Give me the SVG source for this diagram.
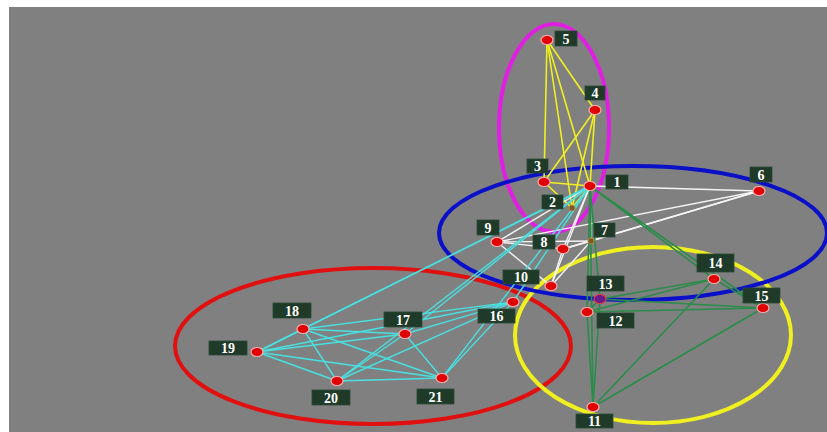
<svg xmlns="http://www.w3.org/2000/svg" width="827" height="432" viewBox="0 0 827 432">
<style>
.bg{fill:#808080}
.ring{fill:none;stroke-width:4}
.y{stroke:#f0f020;stroke-width:1.6}
.w{stroke:#f4f4f4;stroke-width:1.4}
.g{stroke:#2a8c4a;stroke-width:1.6}
.c{stroke:#48e0e0;stroke-width:1.4}
.n{fill:#e00000;stroke:#f4b0b0;stroke-width:1.2}
.s{fill:#7a5a20;stroke:#c08040;stroke-width:1}
.p{fill:#6a1a8a;stroke:#e04040;stroke-width:1.2}
.lb{fill:#1f3a29;stroke:#2c4a36;stroke-width:0.8}
.t{font-family:"Liberation Serif","DejaVu Serif",serif;font-weight:bold;font-size:14px;fill:#ffffff;text-anchor:middle}
</style>
<rect x="0" y="0" width="827" height="432" fill="#ffffff"/>
<rect class="bg" x="9" y="7" width="818" height="425"/>
<g id="regions">
<ellipse class="ring" cx="373" cy="346" rx="198" ry="78" stroke="#e01010"/>
<ellipse class="ring" cx="554" cy="128" rx="55" ry="104" stroke="#e020e0"/>
<ellipse class="ring" cx="653" cy="335" rx="138" ry="88" stroke="#f0f020"/>
<ellipse class="ring" cx="633" cy="233" rx="194" ry="67" stroke="#0a10c8"/>
</g>
<g id="connectors">
<!-- yellow -->
<line class="y" x1="547" y1="40" x2="544" y2="182"/>
<line class="y" x1="547" y1="40" x2="595" y2="110"/>
<line class="y" x1="547" y1="40" x2="572" y2="208"/>
<line class="y" x1="547" y1="40" x2="590" y2="186"/>
<line class="y" x1="595" y1="110" x2="544" y2="182"/>
<line class="y" x1="595" y1="110" x2="572" y2="208"/>
<line class="y" x1="595" y1="110" x2="590" y2="186"/>
<line class="y" x1="544" y1="182" x2="590" y2="186"/>
<line class="y" x1="544" y1="182" x2="572" y2="208"/>
<line class="y" x1="590" y1="186" x2="572" y2="208"/>
<!-- white -->
<line class="w" x1="590" y1="186" x2="759" y2="191"/>
<line class="w" x1="590" y1="186" x2="497" y2="242"/>
<line class="w" x1="590" y1="186" x2="563" y2="249"/>
<line class="w" x1="590" y1="186" x2="551" y2="286"/>
<line class="w" x1="590" y1="186" x2="591" y2="241"/>
<line class="w" x1="759" y1="191" x2="497" y2="242"/>
<line class="w" x1="759" y1="191" x2="563" y2="249"/>
<line class="w" x1="759" y1="191" x2="591" y2="241"/>
<line class="w" x1="497" y1="242" x2="591" y2="241"/>
<line class="w" x1="497" y1="242" x2="563" y2="249"/>
<line class="w" x1="497" y1="242" x2="551" y2="286"/>
<line class="w" x1="563" y1="249" x2="591" y2="241"/>
<line class="w" x1="563" y1="249" x2="551" y2="286"/>
<line class="w" x1="591" y1="241" x2="551" y2="286"/>
<!-- green -->
<line class="g" x1="590" y1="186" x2="593" y2="407"/>
<line class="g" x1="590" y1="186" x2="587" y2="312"/>
<line class="g" x1="590" y1="186" x2="600" y2="299"/>
<line class="g" x1="590" y1="186" x2="714" y2="279"/>
<line class="g" x1="590" y1="186" x2="763" y2="308"/>
<line class="g" x1="714" y1="279" x2="587" y2="312"/>
<line class="g" x1="714" y1="279" x2="600" y2="299"/>
<line class="g" x1="714" y1="279" x2="593" y2="407"/>
<line class="g" x1="714" y1="279" x2="763" y2="308"/>
<line class="g" x1="763" y1="308" x2="587" y2="312"/>
<line class="g" x1="763" y1="308" x2="600" y2="299"/>
<line class="g" x1="763" y1="308" x2="593" y2="407"/>
<line class="g" x1="587" y1="312" x2="593" y2="407"/>
<line class="g" x1="600" y1="299" x2="593" y2="407"/>
<line class="g" x1="587" y1="312" x2="600" y2="299"/>
<!-- cyan -->
<line class="c" x1="590" y1="186" x2="257" y2="352"/>
<line class="c" x1="590" y1="186" x2="303" y2="329"/>
<line class="c" x1="590" y1="186" x2="405" y2="334"/>
<line class="c" x1="590" y1="186" x2="337" y2="381"/>
<line class="c" x1="590" y1="186" x2="513" y2="302"/>
<line class="c" x1="590" y1="186" x2="442" y2="378"/>
<line class="c" x1="513" y1="302" x2="405" y2="334"/>
<line class="c" x1="513" y1="302" x2="303" y2="329"/>
<line class="c" x1="513" y1="302" x2="257" y2="352"/>
<line class="c" x1="513" y1="302" x2="337" y2="381"/>
<line class="c" x1="513" y1="302" x2="442" y2="378"/>
<line class="c" x1="405" y1="334" x2="303" y2="329"/>
<line class="c" x1="405" y1="334" x2="257" y2="352"/>
<line class="c" x1="405" y1="334" x2="337" y2="381"/>
<line class="c" x1="405" y1="334" x2="442" y2="378"/>
<line class="c" x1="303" y1="329" x2="257" y2="352"/>
<line class="c" x1="303" y1="329" x2="337" y2="381"/>
<line class="c" x1="303" y1="329" x2="442" y2="378"/>
<line class="c" x1="257" y1="352" x2="337" y2="381"/>
<line class="c" x1="257" y1="352" x2="442" y2="378"/>
<line class="c" x1="337" y1="381" x2="442" y2="378"/>
</g>
<g id="n1"><ellipse class="n" cx="590" cy="186" rx="6" ry="4.5"/><rect class="lb" x="606" y="175" width="22" height="14"/><text class="t" x="617" y="187">1</text></g>
<g id="n2"><circle class="s" cx="572" cy="208" r="3"/><rect class="lb" x="542" y="195" width="21" height="14"/><text class="t" x="552.5" y="207">2</text></g>
<g id="n3"><ellipse class="n" cx="544" cy="182" rx="6" ry="4.5"/><rect class="lb" x="527" y="159" width="21" height="14"/><text class="t" x="537.5" y="171">3</text></g>
<g id="n4"><ellipse class="n" cx="595" cy="110" rx="6" ry="4.5"/><rect class="lb" x="585" y="86" width="20" height="14"/><text class="t" x="595" y="98">4</text></g>
<g id="n5"><ellipse class="n" cx="547" cy="40" rx="6" ry="4.5"/><rect class="lb" x="555" y="31" width="22" height="15"/><text class="t" x="566" y="43.5">5</text></g>
<g id="n6"><ellipse class="n" cx="759" cy="191" rx="6" ry="4.5"/><rect class="lb" x="750" y="167" width="22" height="15"/><text class="t" x="761" y="179.5">6</text></g>
<g id="n7"><circle class="s" cx="591" cy="241" r="3"/><rect class="lb" x="594" y="223" width="21" height="14"/><text class="t" x="604.5" y="235">7</text></g>
<g id="n8"><ellipse class="n" cx="563" cy="249" rx="6" ry="4.5"/><rect class="lb" x="533" y="235" width="22" height="14"/><text class="t" x="544" y="247">8</text></g>
<g id="n9"><ellipse class="n" cx="497" cy="242" rx="6" ry="4.5"/><rect class="lb" x="477" y="220" width="22" height="15"/><text class="t" x="488" y="232.5">9</text></g>
<g id="n10"><ellipse class="n" cx="551" cy="286" rx="6" ry="4.5"/><rect class="lb" x="503" y="270" width="36" height="14"/><text class="t" x="521" y="282">10</text></g>
<g id="n11"><ellipse class="n" cx="593" cy="407" rx="6" ry="4.5"/><rect class="lb" x="576" y="414" width="37" height="14"/><text class="t" x="594.5" y="426">11</text></g>
<g id="n12"><ellipse class="n" cx="587" cy="312" rx="6" ry="4.5"/><rect class="lb" x="597" y="313" width="37" height="15"/><text class="t" x="615.5" y="325.5">12</text></g>
<g id="n13"><ellipse class="p" cx="600" cy="299" rx="6" ry="4.5"/><rect class="lb" x="587" y="276" width="37" height="15"/><text class="t" x="605.5" y="288.5">13</text></g>
<g id="n14"><ellipse class="n" cx="714" cy="279" rx="6" ry="4.5"/><rect class="lb" x="697" y="254" width="37" height="18"/><text class="t" x="715.5" y="268">14</text></g>
<g id="n15"><ellipse class="n" cx="763" cy="308" rx="6" ry="4.5"/><rect class="lb" x="743" y="288" width="37" height="15"/><text class="t" x="761.5" y="300.5">15</text></g>
<g id="n16"><ellipse class="n" cx="513" cy="302" rx="6" ry="4.5"/><rect class="lb" x="478" y="309" width="37" height="14"/><text class="t" x="496.5" y="321">16</text></g>
<g id="n17"><ellipse class="n" cx="405" cy="334" rx="6" ry="4.5"/><rect class="lb" x="384" y="312" width="38" height="15"/><text class="t" x="403" y="324.5">17</text></g>
<g id="n18"><ellipse class="n" cx="303" cy="329" rx="6" ry="4.5"/><rect class="lb" x="273" y="303" width="38" height="15"/><text class="t" x="292" y="315.5">18</text></g>
<g id="n19"><ellipse class="n" cx="257" cy="352" rx="6" ry="4.5"/><rect class="lb" x="209" y="341" width="38" height="14"/><text class="t" x="228" y="353">19</text></g>
<g id="n20"><ellipse class="n" cx="337" cy="381" rx="6" ry="4.5"/><rect class="lb" x="312" y="390" width="38" height="15"/><text class="t" x="331" y="402.5">20</text></g>
<g id="n21"><ellipse class="n" cx="442" cy="378" rx="6" ry="4.5"/><rect class="lb" x="417" y="389" width="37" height="15"/><text class="t" x="435.5" y="401.5">21</text></g>
</svg>
